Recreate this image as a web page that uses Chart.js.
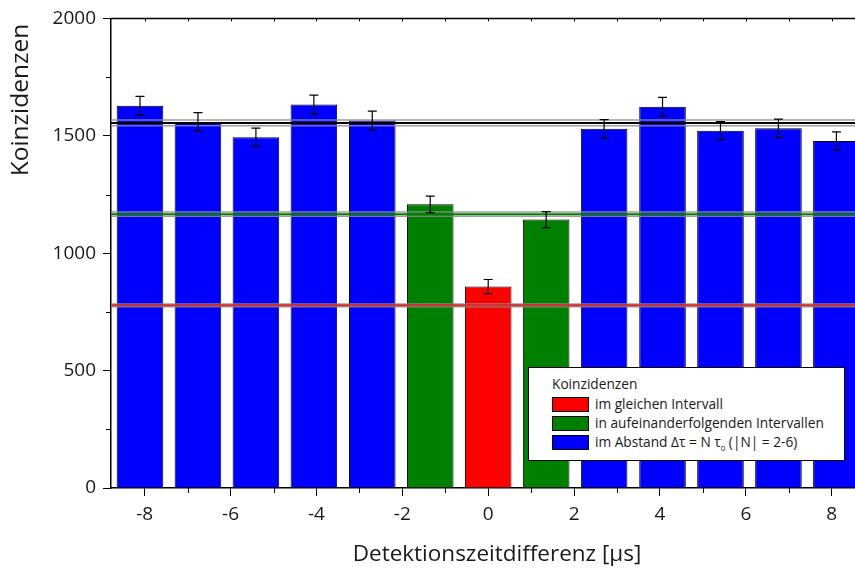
<!DOCTYPE html>
<html lang="de">
<head>
    <meta charset="UTF-8">
    <title>Koinzidenzen</title>
    <script src="https://cdn.jsdelivr.net/npm/chart.js"></script>
    <style>
        html, body {
            margin: 0;
            padding: 0;
            background: #fff;
        }
        .wrap {
            position: relative;
            width: 855px;
            height: 570px;
        }
        #legend {
            position: absolute;
            left: 528px;
            top: 367px;
            width: 315px;
            height: 92px;
            background: #fff;
            border: 1px solid #000;
            font-family: "Open Sans", sans-serif;
            font-size: 13.7px;
            color: #1a1a1a;
        }
        #legend .row {
            position: absolute;
            left: 23px;
            height: 19px;
            line-height: 19px;
            white-space: nowrap;
        }
        #legend .sw {
            display: inline-block;
            width: 35px;
            height: 13px;
            border: 1px solid #000;
            vertical-align: -3px;
            margin-right: 6px;
        }
        #legend sub {
            font-size: 8px;
        }
    </style>
</head>
<body>
<div class="wrap">
    <canvas id="chart" width="855" height="570"></canvas>
    <div id="legend">
        <div class="row" style="top:6px">Koinzidenzen</div>
        <div class="row" style="top:26px"><span class="sw" style="background:#ff0000"></span>im gleichen Intervall</div>
        <div class="row" style="top:45px"><span class="sw" style="background:#008000"></span>in aufeinanderfolgenden Intervallen</div>
        <div class="row" style="top:64px"><span class="sw" style="background:#0000ff"></span>im Abstand &Delta;&tau; = N &tau;<sub>0</sub> (|N| = 2-6)</div>
    </div>
</div>

<script>
    // Detektionszeitdifferenz in µs (N * tau0), Koinzidenzen, Fehler
    const redX = [0];
    const redY = [858];
    const redErr = [30];

    const greenX = [-1.35, 1.35];
    const greenY = [1208, 1143];
    const greenErr = [35, 34];

    const blueX = [-8.11, -6.76, -5.41, -4.06, -2.70, 2.70, 4.06, 5.41, 6.76, 8.11];
    const blueY = [1628, 1559, 1494, 1633, 1565, 1530, 1624, 1522, 1532, 1478];
    const blueErr = [40, 40, 39, 40, 40, 39, 40, 38, 39, 39];

    // horizontale Referenzlinien (Mittelwert, 3/4, 1/2) mit Fehlerband
    const refLevels = [1555, 1166, 778];
    const refErrors = [12, 9, 6];
    const refColors = ['#000000', '#008000', '#d42a2a'];

    const xTicks = [-8, -6, -4, -2, 0, 2, 4, 6, 8];
    const xMinorTicks = [-7, -5, -3, -1, 1, 3, 5, 7];
    const yTicks = [0, 500, 1000, 1500, 2000];
    const yMinorTicks = [250, 750, 1250, 1750];

    const xTitle = 'Detektionszeitdifferenz [µs]';
    const yTitle = 'Koinzidenzen';

    const FONT = '"Open Sans", sans-serif';

    function barSet(label, xs, ys, errs, color) {
        return {
            type: 'bar',
            label: label,
            data: xs.map((x, i) => ({x: x, y: ys[i]})),
            errors: errs,
            backgroundColor: color,
            borderColor: '#000',
            borderWidth: 1,
            grouped: false,
            barPercentage: 0.804,
            categoryPercentage: 1
        };
    }

    const extras = {
        id: 'extras',
        afterDatasetsDraw(chart) {
            const {ctx, chartArea, scales: {x, y}} = chart;
            ctx.save();
            ctx.beginPath();
            ctx.rect(chartArea.left, chartArea.top, chartArea.right - chartArea.left, chartArea.bottom - chartArea.top);
            ctx.clip();

            // Referenzlinien
            refLevels.forEach((lvl, i) => {
                [lvl - refErrors[i], lvl + refErrors[i]].forEach(v => {
                    const py = y.getPixelForValue(v);
                    ctx.strokeStyle = 'rgba(140,140,140,0.85)';
                    ctx.lineWidth = 1.5;
                    ctx.beginPath();
                    ctx.moveTo(chartArea.left, py);
                    ctx.lineTo(chartArea.right, py);
                    ctx.stroke();
                });
                const py = y.getPixelForValue(lvl);
                ctx.strokeStyle = refColors[i];
                ctx.lineWidth = 2;
                ctx.beginPath();
                ctx.moveTo(chartArea.left, py);
                ctx.lineTo(chartArea.right, py);
                ctx.stroke();
            });

            // Fehlerbalken
            ctx.strokeStyle = '#000';
            ctx.lineWidth = 1.2;
            chart.data.datasets.forEach((ds, di) => {
                const meta = chart.getDatasetMeta(di);
                meta.data.forEach((bar, i) => {
                    const v = ds.data[i].y;
                    const e = ds.errors[i];
                    const top = y.getPixelForValue(v + e);
                    const bot = y.getPixelForValue(v - e);
                    const cx = bar.x;
                    ctx.beginPath();
                    ctx.moveTo(cx, top);
                    ctx.lineTo(cx, bot);
                    ctx.moveTo(cx - 4.5, top);
                    ctx.lineTo(cx + 4.5, top);
                    ctx.moveTo(cx - 4.5, bot);
                    ctx.lineTo(cx + 4.5, bot);
                    ctx.stroke();
                });
            });
            ctx.restore();
        },
        afterDraw(chart) {
            const {ctx, chartArea, scales: {x, y}} = chart;
            ctx.save();
            ctx.strokeStyle = '#000';
            ctx.lineWidth = 1.5;
            // oberer Rahmen
            ctx.beginPath();
            ctx.moveTo(chartArea.left, chartArea.top);
            ctx.lineTo(chartArea.right, chartArea.top);
            ctx.stroke();
            ctx.lineWidth = 1;
            ctx.beginPath();
            xTicks.concat(xMinorTicks).forEach(v => {
                const px = Math.round(x.getPixelForValue(v)) + 0.5;
                ctx.moveTo(px, chartArea.top);
                ctx.lineTo(px, chartArea.top + 3);
            });
            // Nebenteilstriche
            xMinorTicks.forEach(v => {
                const px = Math.round(x.getPixelForValue(v)) + 0.5;
                ctx.moveTo(px, chartArea.bottom);
                ctx.lineTo(px, chartArea.bottom + 5);
            });
            yMinorTicks.forEach(v => {
                const py = Math.round(y.getPixelForValue(v)) + 0.5;
                ctx.moveTo(chartArea.left, py);
                ctx.lineTo(chartArea.left - 5, py);
            });
            ctx.stroke();

            // Achsentitel
            ctx.fillStyle = '#1a1a1a';
            ctx.textAlign = 'center';
            ctx.textBaseline = 'middle';
            ctx.font = '22.5px ' + FONT;
            ctx.fillText(xTitle, 497, 555);
            ctx.translate(21, 100);
            ctx.rotate(-Math.PI / 2);
            ctx.font = '24.5px ' + FONT;
            ctx.fillText(yTitle, 0, 0);
            ctx.restore();
        }
    };

    const ctx = document.getElementById('chart').getContext('2d');
    const chart = new Chart(ctx, {
        data: {
            datasets: [
                barSet('im gleichen Intervall', redX, redY, redErr, '#ff0000'),
                barSet('in aufeinanderfolgenden Intervallen', greenX, greenY, greenErr, '#008000'),
                barSet('im Abstand Δτ = N τ0 (|N| = 2-6)', blueX, blueY, blueErr, '#0000ff')
            ]
        },
        options: {
            responsive: false,
            animation: false,
            layout: {
                padding: {top: 18, right: 0, bottom: 0, left: 0}
            },
            plugins: {
                legend: {display: false},
                tooltip: {enabled: false}
            },
            scales: {
                x: {
                    type: 'linear',
                    min: -8.785,
                    max: 8.543,
                    offset: false,
                    afterBuildTicks: s => { s.ticks = xTicks.map(v => ({value: v})); },
                    afterFit: s => { s.height = 82; s.paddingRight = 0; s.paddingLeft = 0; },
                    ticks: {
                        font: {family: FONT, size: 19},
                        color: '#1a1a1a',
                        padding: 7,
                        maxRotation: 0,
                        callback: v => String(v)
                    },
                    grid: {
                        offset: false,
                        drawOnChartArea: false,
                        tickLength: 8,
                        tickColor: '#000',
                        tickWidth: 1
                    },
                    border: {color: '#000', width: 1.5}
                },
                y: {
                    min: 0,
                    max: 2000,
                    afterBuildTicks: s => { s.ticks = yTicks.map(v => ({value: v})); },
                    afterFit: s => { s.width = 111; },
                    ticks: {
                        font: {family: FONT, size: 19},
                        color: '#1a1a1a',
                        padding: 7,
                        callback: v => String(v)
                    },
                    grid: {
                        drawOnChartArea: false,
                        tickLength: 8,
                        tickColor: '#000',
                        tickWidth: 1
                    },
                    border: {color: '#000', width: 1.5}
                }
            }
        },
        plugins: [extras]
    });
</script>
</body>
</html>
